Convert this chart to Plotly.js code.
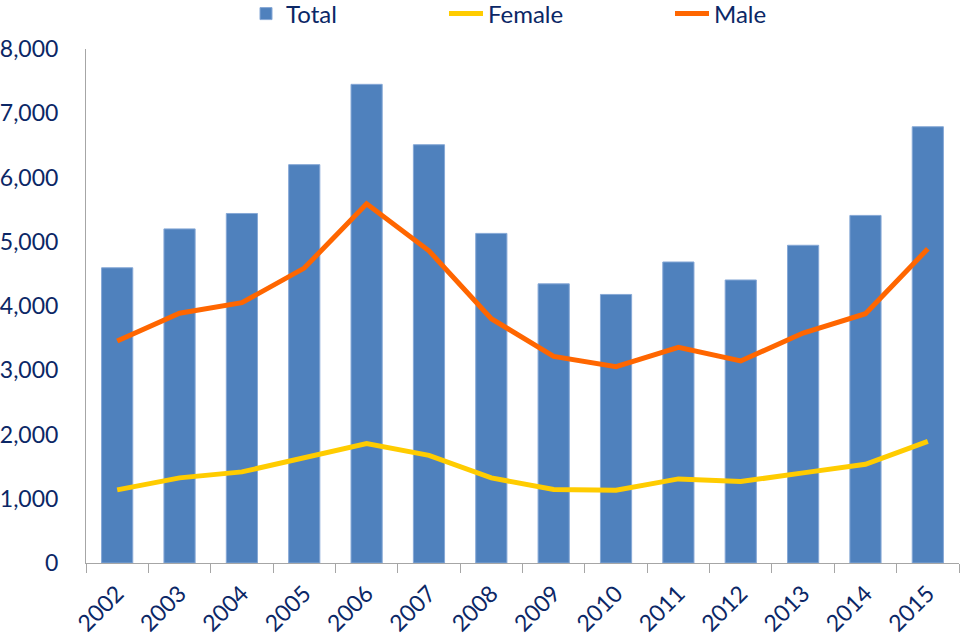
<!DOCTYPE html>
<html>
<head>
<meta charset="utf-8">
<script src="https://cdn.plot.ly/plotly-3.0.1.min.js"></script>
<style>html,body{margin:0;padding:0;background:#fff;}#chart{width:960px;height:637px;}</style>
</head>
<body>
<div id="chart"></div>
<script>
const years = ['2002','2003','2004','2005','2006','2007','2008','2009','2010','2011','2012','2013','2014','2015'];
const total = [4595,5200,5440,6200,7450,6510,5130,4345,4180,4685,4405,4945,5410,6790];
const female = [1138,1325,1418,1645,1858,1676,1325,1143,1132,1309,1267,1403,1536,1894];
const male = [3455,3887,4051,4590,5590,4859,3802,3216,3055,3356,3144,3580,3880,4890];
const yTicks = [0,1000,2000,3000,4000,5000,6000,7000,8000];

const navy = '#0b2766';
const font = {family: 'Lato, "Open Sans", sans-serif', size: 23, color: navy};
const legFont = {family: 'Lato, "Open Sans", sans-serif', size: 24, color: navy};

const traces = [
  {type:'bar', name:'Total', x:years, y:total, width:0.5,
   marker:{color:'#4f81bd', line:{color:'#86a8d6', width:1}}, legend:'legend'},
  {type:'scatter', mode:'lines', name:'Female', x:years, y:female,
   line:{color:'#ffcc00', width:5}, legend:'legend2'},
  {type:'scatter', mode:'lines', name:'Male', x:years, y:male,
   line:{color:'#ff6600', width:5}, legend:'legend3'}
];

const legBase = {orientation:'h', xref:'container', yref:'container', yanchor:'middle', y:1 - 14/637, xanchor:'left',
  font:legFont, bgcolor:'rgba(0,0,0,0)', borderwidth:0};

const layout = {
  width:960, height:637,
  margin:{l:86, r:1, t:49, b:73.5, autoexpand:false},
  paper_bgcolor:'#fff', plot_bgcolor:'#fff',
  font:font,
  showlegend:true,
  legend: Object.assign({}, legBase, {x:246/960}),
  legend2: Object.assign({}, legBase, {x:444/960, itemwidth:34}),
  legend3: Object.assign({}, legBase, {x:670/960, itemwidth:34}),
  xaxis:{type:'category', range:[-0.5, 13.5], showline:true, linecolor:'#a6a6a6', linewidth:1,
    ticks:'outside', tickson:'boundaries', ticklen:9, tickcolor:'#a6a6a6', tickwidth:1,
    tickangle:-45, tickfont:font, showgrid:false, zeroline:false, ticklabelstandoff:7},
  yaxis:{range:[0,8000], tickvals:yTicks, tickformat:',d', showline:true, linecolor:'#a6a6a6', linewidth:1,
    ticks:'', showgrid:false, zeroline:false, tickfont:font, ticklabelstandoff:22}
};

Plotly.newPlot('chart', traces, layout, {displayModeBar:false, staticPlot:true});
</script>
</body>
</html>
